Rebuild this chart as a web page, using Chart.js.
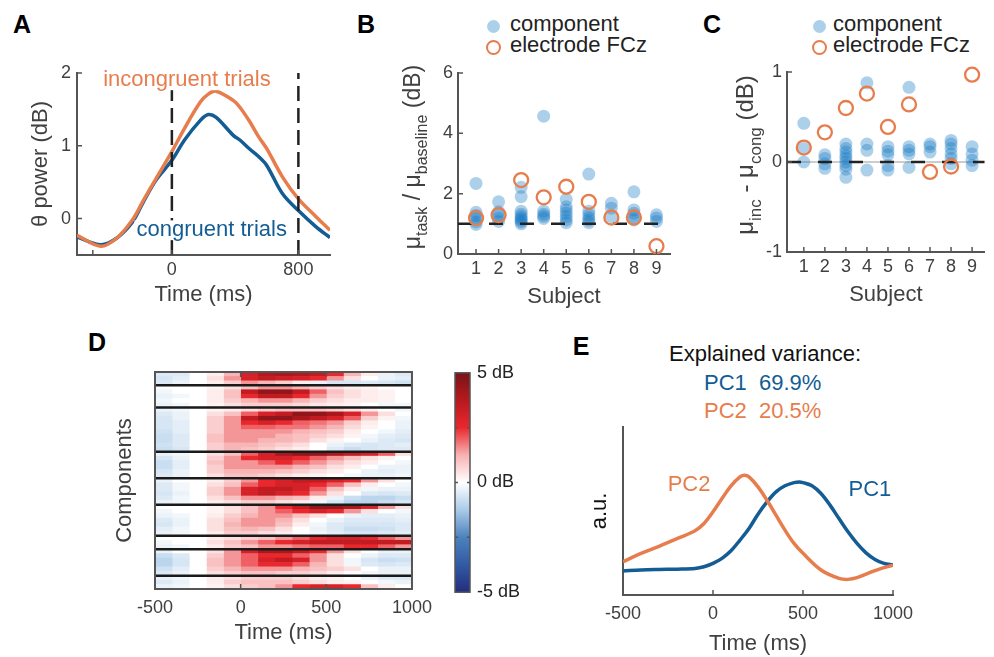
<!DOCTYPE html>
<html>
<head>
<meta charset="utf-8">
<script src="https://cdn.jsdelivr.net/npm/chart.js@4.4.0/dist/chart.umd.min.js"></script>
<style>
  body { margin: 0; background: #fff; }
  #page { position: relative; width: 994px; height: 657px; overflow: hidden;
          font-family: "Liberation Sans", Arial, Helvetica, sans-serif; }
  .box { position: absolute; }
  .letter { position: absolute; width: 30px; text-align: center; font-weight: bold;
            font-size: 25px; line-height: 25px; color: #000; }
  .txt { position: absolute; font-size: 22px; line-height: 22px; white-space: pre; }
  .dot { position: absolute; width: 13px; height: 13px; border-radius: 50%; background: rgba(20,120,195,0.35); }
  .ring { position: absolute; width: 15px; height: 15px; border-radius: 50%; box-sizing: border-box;
          border: 2.3px solid #E77D4C; }
</style>
</head>
<body>
<div id="page">
  <div class="letter" style="left:7px;top:12px">A</div>
  <div class="letter" style="left:351px;top:12px">B</div>
  <div class="letter" style="left:697px;top:12px">C</div>
  <div class="letter" style="left:82px;top:330px">D</div>
  <div class="letter" style="left:566px;top:334px">E</div>

  <div class="dot" style="left:487px;top:20px"></div>
  <div class="txt" style="left:510px;top:13px;color:#222">component</div>
  <div class="ring" style="left:486px;top:40px"></div>
  <div class="txt" style="left:510px;top:34px;color:#222">electrode FCz</div>

  <div class="dot" style="left:813px;top:20px"></div>
  <div class="txt" style="left:833px;top:13px;color:#222">component</div>
  <div class="ring" style="left:812px;top:40px"></div>
  <div class="txt" style="left:833px;top:34px;color:#222">electrode FCz</div>

  <div class="txt" style="left:665px;top:343px;width:200px;text-align:center;color:#111">Explained variance:</div>
  <div class="txt" style="left:704px;top:372px;color:#135C94">PC1  69.9%</div>
  <div class="txt" style="left:704px;top:400px;color:#E77D4C">PC2  20.5%</div>

  <div class="box" style="left:0;top:40px;width:345px;height:270px"><canvas id="chartA"></canvas></div>
  <div class="box" style="left:350px;top:40px;width:330px;height:270px"><canvas id="chartB"></canvas></div>
  <div class="box" style="left:680px;top:40px;width:314px;height:270px"><canvas id="chartC"></canvas></div>
  <div class="box" style="left:90px;top:355px;width:350px;height:300px"><canvas id="chartD"></canvas></div>
  <div class="box" style="left:440px;top:355px;width:100px;height:255px"><canvas id="chartCb"></canvas></div>
  <div class="box" style="left:545px;top:410px;width:449px;height:252px"><canvas id="chartE"></canvas></div>
</div>

<script>
// ---- data ----
const timeA = [-600, -450, -350, -250, -180, -100, 0, 80, 180, 230, 280, 390, 430, 490, 550, 600, 700, 800, 910, 1000];
const incongruent = [-0.23, -0.38, -0.27, -0.02, 0.25, 0.55, 0.92, 1.24, 1.60, 1.71, 1.75, 1.62, 1.53, 1.34, 1.12, 0.96, 0.57, 0.27, 0.03, -0.16];
const congruent = [-0.25, -0.36, -0.27, -0.05, 0.23, 0.53, 0.80, 1.08, 1.35, 1.43, 1.39, 1.14, 1.08, 0.96, 0.85, 0.73, 0.34, 0.11, -0.11, -0.26];
const ticksAx = [-500, 0, 800];
const ticksAy = [0, 1, 2];

const subjects = [1, 2, 3, 4, 5, 6, 7, 8, 9];
const compB = [
  [2.34, 1.38, 1.28, 1.18, 1.06, 0.98],
  [1.73, 1.40, 1.28, 1.18, 1.08],
  [2.21, 1.90, 1.42, 1.32, 1.24, 1.18, 1.12, 1.06, 1.00],
  [4.57, 1.42, 1.32, 1.25, 1.18],
  [1.81, 1.57, 1.46, 1.35, 1.24, 1.13, 1.04],
  [2.65, 1.42, 1.30, 1.20, 1.12, 1.04],
  [1.68, 1.52, 1.24],
  [2.06, 1.46, 1.35, 1.24, 1.13],
  [1.30, 1.19, 1.08]
];
const fczB = [1.19, 1.29, 2.45, 1.88, 2.23, 1.73, 1.21, 1.21, 0.26];
const ticksBy = [0, 2, 4, 6];

const compC = [
  [0.43, 0.15, 0.0],
  [0.08, 0.04, -0.02, -0.07],
  [0.20, 0.15, 0.11, 0.07, 0.04, 0.0, -0.04, -0.08, -0.17],
  [0.88, 0.20, 0.13, -0.09],
  [0.17, 0.12, 0.08, -0.04, -0.09],
  [0.83, 0.17, 0.13, 0.09, -0.06],
  [0.20, 0.17, 0.11],
  [0.24, 0.20, 0.15, 0.09, 0.04, -0.02],
  [0.17, 0.09, 0.02, -0.04]
];
const fczC = [0.16, 0.33, 0.60, 0.76, 0.39, 0.64, -0.11, -0.05, 0.97];
const ticksCy = [-1, 0, 1];

// heatmap: 100 ms bins from -500 to 1000, one row per component
const heatTimes = [-500, -400, -300, -200, -100, 0, 100, 200, 300, 400, 500, 600, 700, 800, 900, 1000];
const groupSizes = [3, 5, 10, 6, 6, 7, 3, 6, 3];
const heatRows = [
  [-0.5,-0.5,0,0.3,1.2,3,3.8,4,3.8,3.5,2.5,1.2,0.3,-0.3,-0.5],
  [-0.6,-0.4,0,0.5,1.5,3,3.5,3.2,3,2.5,1.5,0.5,0,-0.3,-0.4],
  [-0.5,-0.3,0,0.3,0.8,1.5,1.2,0.8,0.3,-0.3,-0.6,-0.6,-0.5,-0.6,-0.7],

  [0,0,0,0.2,0.5,1,1.5,1.5,1.2,0.8,0.5,0.3,0.2,0,0],
  [-0.2,0,0,0.3,1,3.5,4.5,4.5,3.5,2,1,0.5,0.3,0.2,0],
  [-0.3,-0.2,0,0.3,1,2.5,3.5,3.5,2.5,1.5,0.8,0.5,0.3,0.2,0],
  [-0.2,0,0,0.3,0.8,1.2,1.5,1.5,1.2,0.8,0.5,0.3,0.3,0.2,0],
  [-0.3,-0.2,0,0.2,0.5,0.8,0.8,0.8,0.6,0.4,0.3,0.2,0,-0.2,-0.2],

  [-0.3,-0.2,0,0.2,0.3,0.5,0.8,1,1,1,0.8,0.5,0.3,0,-0.2],
  [-0.5,-0.3,0,0.5,1,2,3,3.5,4.5,4.5,4,3,1.5,0.5,0],
  [-0.6,-0.3,0,0.8,1.5,3.5,4.5,4.5,4,3.5,3,2,0.8,0.2,-0.2],
  [-0.6,-0.4,0,0.8,1.5,2.5,3,2.5,2,1.8,1.5,0.8,0.3,0,-0.3],
  [-0.6,-0.4,0,0.8,1.5,2,2,1.8,1.8,1.5,1.2,0.6,0.2,0,-0.3],
  [-0.7,-0.4,0,0.8,1.5,1.5,1.5,1.5,1.2,1,0.8,0.3,0,-0.2,-0.4],
  [-0.8,-0.5,0,1,1.5,1.5,1.5,1.2,1,0.8,0.5,0.2,-0.2,-0.4,-0.5],
  [-0.8,-0.5,0,1,1.5,1.5,1.2,1.2,1,0.5,0.2,0,-0.3,-0.5,-0.6],
  [-0.7,-0.5,0,0.8,1.2,1.2,1,0.8,0.5,0,-0.3,-0.5,-0.6,-0.5,-0.4],
  [-0.8,-0.6,0,0.8,1.2,1,0.8,0.5,0.3,0,-0.5,-0.8,-0.6,-0.5,-0.5],

  [-0.3,-0.2,0,0.5,1,2,3,4,4.5,4.5,4,3.5,3,2,0.5],
  [-0.6,-0.3,0,0.8,1.5,2.5,3,3,2.5,2,1.5,1,0.5,0.2,0],
  [-0.8,-0.4,0,1,1.5,1.5,2,2.5,2,1.5,1,0.5,0.3,0,-0.2],
  [-0.8,-0.4,0,0.8,1.5,1.5,1.5,1.5,1.2,1,0.5,0.3,0,-0.3,-0.3],
  [-0.6,-0.3,0,0.8,1.2,1.2,1.2,1,0.8,0.5,0.3,0,-0.3,-0.4,-0.3],
  [-0.5,-0.3,0,0.5,1,1,0.8,0.5,0.3,0.2,0,-0.2,-0.3,-0.3,-0.2],

  [-0.3,0,0,0.3,0.8,1.5,2.5,3,3.5,3.5,3,2.5,1.5,0.5,0],
  [-0.5,-0.2,0,0.5,1,2,2.5,3,3,2.5,2,1,0.3,0,-0.2],
  [-0.5,-0.2,0,0.8,1.5,3,3.5,3.5,3,2,1,0.3,-0.2,-0.3,-0.3],
  [-0.6,-0.3,0,0.8,1.5,3,3.5,3,2.5,1.5,0.5,0,-0.5,-0.6,-0.5],
  [-0.5,-0.2,0,0.5,1,1.5,1.5,1.2,1,0.3,-0.3,-0.8,-1,-1,-0.8],
  [-0.3,-0.2,0,0.3,0.5,0.8,0.8,0.5,0.3,-0.2,-0.6,-1,-1,-0.8,-0.6],

  [0,0,0,0.2,0.5,1,1.5,2.5,3.5,4.5,4.5,4,3,1.5,0.5],
  [-0.2,0,0,0.2,0.5,1,1.5,2,2.5,3,2.5,1.5,0.5,0,-0.2],
  [-0.3,-0.2,0,0.3,0.8,1.2,1.5,1.5,1,0.5,0,-0.3,-0.4,-0.4,-0.3],
  [-0.5,-0.3,0,0.5,1,1.5,1.5,1.2,0.5,0,-0.3,-0.5,-0.5,-0.5,-0.4],
  [-0.6,-0.3,0,0.5,1.2,1.5,1.5,1,0.3,-0.2,-0.5,-0.6,-0.6,-0.6,-0.5],
  [-0.4,-0.2,0,0.5,1,1.2,1,0.5,0,-0.3,-0.5,-0.8,-0.8,-0.7,-0.5],
  [-0.3,-0.2,0,0.3,0.8,0.8,0.5,0.3,0,-0.2,-0.4,-0.6,-0.6,-0.5,-0.4],

  [0,0,0,0.3,0.5,0.8,1,1.5,2,2.5,3,3,2.5,2,1.5],
  [-0.2,0,0,0.5,1,1.5,2,2.5,3,3.5,3.5,3.5,3.5,3.5,3.5],
  [-0.3,-0.2,0,0.3,0.8,1,1.5,1.5,1.8,2,2,2.5,2.5,2,1.5],

  [-0.3,0,0,0.5,1.5,3,4,4,3.5,2.5,1.5,0.5,0,-0.3,-0.3],
  [-0.8,-0.5,0,0.8,1.5,2,2.5,2.5,2,1.5,0.5,0,-0.3,-0.5,-0.5],
  [-1,-0.6,0,1,1.5,2,3,3.5,3,1.5,0.5,-0.2,-0.6,-0.8,-0.7],
  [-1,-0.6,0,1,1.5,2,2.5,2.5,2,1.2,0.5,-0.2,-0.5,-0.6,-0.5],
  [-0.7,-0.4,0,0.8,1.2,1.5,1.5,1.5,1.2,1,0.8,0.5,0,-0.3,-0.3],
  [-0.5,-0.3,0,0.5,0.8,1,1,0.8,0.8,0.6,0.3,0,-0.2,-0.3,-0.3],

  [-0.3,-0.2,0,0.3,0.5,0.8,0.8,0.8,0.5,0.3,0.2,0,-0.3,-0.5,-0.5],
  [-0.5,-0.3,0,0.3,0.8,1,1,1,0.8,0.5,0.3,0.2,0,-0.2,-0.3],
  [-0.3,-0.2,0,0.2,0.5,0.8,1,1.5,2.5,3,3,2.5,1,0.3,0]
];
const ticksD = [-500, 0, 500, 1000];
const cbTicks = [-5, 0, 5];

const timePC1 = [-500, -400, -300, -200, -100, -50, 0, 50, 100, 150, 200, 250, 300, 350, 400, 450, 480, 500, 550, 600, 650, 700, 750, 800, 850, 900, 950, 1000];
const pc1 = [0.143, 0.149, 0.152, 0.154, 0.158, 0.168, 0.188, 0.218, 0.263, 0.327, 0.396, 0.481, 0.554, 0.614, 0.650, 0.669, 0.673, 0.669, 0.650, 0.604, 0.535, 0.455, 0.376, 0.307, 0.251, 0.212, 0.188, 0.178];
const timePC2 = [-500, -400, -300, -200, -100, -50, 0, 50, 100, 150, 175, 200, 250, 300, 350, 400, 450, 500, 600, 700, 750, 800, 900, 1000];
const pc2 = [0.198, 0.248, 0.290, 0.335, 0.382, 0.426, 0.495, 0.574, 0.650, 0.703, 0.713, 0.703, 0.644, 0.564, 0.475, 0.386, 0.307, 0.248, 0.149, 0.099, 0.093, 0.103, 0.145, 0.178];
const ticksE = [-500, 0, 500, 1000];

// ---- styling ----
const FONT = '"Liberation Sans", Arial, Helvetica, sans-serif';
const BLUE = '#135C94';
const ORANGE = '#E77D4C';
const DOT = 'rgba(20,120,195,0.35)';
const AX = '#555';
const TXT = '#404040';

Chart.defaults.font.family = FONT;
Chart.defaults.color = TXT;
Chart.defaults.animation = false;
Chart.defaults.responsive = true;
Chart.defaults.maintainAspectRatio = false;
Chart.defaults.events = [];
Chart.defaults.plugins.legend.display = false;
Chart.defaults.plugins.tooltip.enabled = false;

// red-white-blue colormap, -5..5 dB
const cmapStops = [
  [-5, [35, 45, 125]], [-3.75, [50, 90, 165]], [-2.5, [75, 130, 190]], [-1.25, [170, 203, 232]],
  [0, [255, 255, 255]], [1.25, [247, 178, 178]], [2.5, [233, 40, 46]], [3.75, [182, 25, 30]], [5, [120, 20, 25]]
];
function cmap(v) {
  v = Math.max(-5, Math.min(5, v));
  for (let i = 1; i < cmapStops.length; i++) {
    const [v0, c0] = cmapStops[i - 1], [v1, c1] = cmapStops[i];
    if (v <= v1) {
      const f = (v - v0) / (v1 - v0);
      const c = c0.map((a, k) => Math.round(a + (c1[k] - a) * f));
      return `rgb(${c[0]},${c[1]},${c[2]})`;
    }
  }
  return 'rgb(120,20,25)';
}

const setTicks = vals => s => { s.ticks = vals.map(v => ({ value: v })); };
const plain = v => String(v);

function xAxis(min, max, vals, height, extra) {
  return Object.assign({
    type: 'linear', min, max,
    afterBuildTicks: setTicks(vals),
    afterFit: s => { s.height = height; },
    grid: { display: false, drawTicks: false },
    border: { color: AX, width: 2 },
    ticks: { font: { size: 18 }, padding: 4, maxRotation: 0, autoSkip: false, callback: plain }
  }, extra);
}
function yAxis(min, max, vals, width, extra) {
  return Object.assign({
    type: 'linear', min, max,
    afterBuildTicks: setTicks(vals),
    afterFit: s => { s.width = width; },
    grid: { display: false, drawTicks: false },
    border: { color: AX, width: 2 },
    ticks: { font: { size: 18 }, padding: 6, autoSkip: false, callback: plain }
  }, extra);
}

// ---- plugins ----
const inwardTicks = {
  id: 'inwardTicks',
  afterDatasetsDraw(chart, args, o) {
    const { ctx, chartArea: a, scales } = chart;
    const len = o.len || 5;
    ctx.save();
    ctx.strokeStyle = o.color || AX;
    ctx.lineWidth = o.width || 1.5;
    ctx.beginPath();
    (o.x || []).forEach(v => {
      const p = scales.x.getPixelForValue(v);
      ctx.moveTo(p, a.bottom); ctx.lineTo(p, a.bottom - len);
      if (o.mirror) { ctx.moveTo(p, a.top); ctx.lineTo(p, a.top + len); }
    });
    (o.y || []).forEach(v => {
      const p = scales.y.getPixelForValue(v);
      ctx.moveTo(a.left, p); ctx.lineTo(a.left + len, p);
      if (o.mirror) { ctx.moveTo(a.right, p); ctx.lineTo(a.right - len, p); }
    });
    ctx.stroke();
    ctx.restore();
  }
};

const notes = {
  id: 'notes',
  afterDatasetsDraw(chart, args, o) {
    const { ctx, scales: { x, y } } = chart;
    ctx.save();
    ctx.font = `${o.size}px ${FONT}`;
    ctx.textAlign = 'center';
    ctx.textBaseline = 'middle';
    o.items.forEach(n => {
      const px = x.getPixelForValue(n.x), py = y.getPixelForValue(n.y);
      if (n.bg) {
        const w = ctx.measureText(n.text).width;
        ctx.fillStyle = n.bg;
        ctx.fillRect(px - w / 2 - 2, py - o.size * 0.45, w + 4, o.size * 0.9);
      }
      ctx.fillStyle = n.color;
      ctx.fillText(n.text, px, py);
    });
    ctx.restore();
  }
};

// rotated axis title with subscripts
const richTitle = {
  id: 'richTitle',
  afterDraw(chart, args, o) {
    const ctx = chart.ctx;
    const big = `${o.size}px ${FONT}`, small = `${o.sub}px ${FONT}`;
    ctx.save();
    ctx.translate(o.x, o.y);
    ctx.rotate(-Math.PI / 2);
    ctx.fillStyle = o.color;
    ctx.textBaseline = 'alphabetic';
    let w = 0;
    o.parts.forEach(([t, s]) => { ctx.font = s ? small : big; w += ctx.measureText(t).width; });
    let cx = -w / 2;
    const base = o.size * 0.35;
    o.parts.forEach(([t, s]) => {
      ctx.font = s ? small : big;
      ctx.fillText(t, cx, base + (s ? o.size * 0.3 : 0));
      cx += ctx.measureText(t).width;
    });
    ctx.restore();
  }
};

const frame = {
  id: 'frame',
  afterDatasetsDraw(chart, args, o) {
    const { ctx, chartArea: a } = chart;
    ctx.save();
    ctx.strokeStyle = o.color || AX;
    ctx.lineWidth = o.width || 2;
    ctx.strokeRect(a.left, a.top, a.right - a.left, a.bottom - a.top);
    ctx.restore();
  }
};

const separators = {
  id: 'separators',
  afterDatasetsDraw(chart, args, o) {
    const { ctx, chartArea: a, scales: { y } } = chart;
    ctx.save();
    ctx.strokeStyle = '#1a1a1a';
    ctx.lineWidth = 2.5;
    ctx.beginPath();
    o.after.forEach(b => {
      const p = (y.getPixelForValue(b - 1) + y.getPixelForValue(b)) / 2;
      ctx.moveTo(a.left, p); ctx.lineTo(a.right, p);
    });
    ctx.stroke();
    ctx.restore();
  }
};

const xy = (xs, ys) => xs.map((x, i) => ({ x, y: ys[i] }));
const vline = (x, y0, y1) => [{ x, y: y0 }, { x, y: y1 }];
const hline = (y, x0, x1) => [{ x: x0, y }, { x: x1, y }];

// ---- A: theta power ----
new Chart(document.getElementById('chartA'), {
  type: 'scatter',
  data: {
    datasets: [
      { data: vline(0, -0.5, 2), showLine: true, borderColor: '#222', borderWidth: 2.5, borderDash: [15, 7], pointRadius: 0 },
      { data: vline(800, -0.5, 2), showLine: true, borderColor: '#222', borderWidth: 2.5, borderDash: [15, 7], pointRadius: 0 },
      { data: xy(timeA, incongruent), showLine: true, borderColor: ORANGE, borderWidth: 3.5, pointRadius: 0, tension: 0.35 },
      { data: xy(timeA, congruent), showLine: true, borderColor: BLUE, borderWidth: 3.5, pointRadius: 0, tension: 0.35 }
    ]
  },
  options: {
    layout: { padding: { top: 33, right: 15 } },
    scales: {
      x: xAxis(-600, 1000, ticksAx, 55, {
        ticks: { font: { size: 18 }, padding: 4, maxRotation: 0, autoSkip: false, callback: v => (v === -500 ? '' : String(v)) },
        title: { display: true, text: 'Time (ms)', font: { size: 22 }, padding: { top: 0, bottom: 2 } }
      }),
      y: yAxis(-0.5, 2, ticksAy, 77, {
        title: { display: true, text: 'θ power (dB)', font: { size: 22 }, padding: { top: 28, bottom: 0 } }
      })
    },
    plugins: {
      inwardTicks: { x: ticksAx, y: ticksAy },
      notes: { size: 22, items: [
        { text: 'incongruent trials', x: 95, y: 1.9, color: ORANGE, bg: '#fff' },
        { text: 'congruent trials', x: 252, y: -0.16, color: BLUE, bg: '#fff' }
      ] }
    }
  },
  plugins: [inwardTicks, notes]
});

// ---- B and C: subject scatter ----
function subjectChart(id, comp, fcz, yMin, yMax, yTicks, refY, area, title, extraSets) {
  return new Chart(document.getElementById(id), {
    type: 'scatter',
    data: {
      datasets: [
        { data: subjects.map((s, i) => ({ x: s, y: fcz[i] })), pointRadius: 7, pointBorderWidth: 2.3,
          pointBorderColor: ORANGE, pointBackgroundColor: 'rgba(0,0,0,0)', clip: false, order: 0 },
        { data: hline(refY, 0.2, 9.6), showLine: true, borderColor: '#222', borderWidth: 2.5,
          borderDash: [14, 17], pointRadius: 0, order: 1 },
        { data: comp.flatMap((vals, i) => vals.map(v => ({ x: subjects[i], y: v }))), pointRadius: 6.5,
          pointBorderWidth: 0, pointBackgroundColor: DOT, clip: false, order: 2 }
      ].concat(extraSets)
    },
    options: {
      layout: { padding: area.padding },
      scales: {
        x: xAxis(0.2, 9.6, subjects, area.xh, {
          title: { display: true, text: 'Subject', font: { size: 22 }, padding: { top: 0, bottom: area.tb } }
        }),
        y: yAxis(yMin, yMax, yTicks, area.yw, { ticks: { font: { size: 18 }, padding: 5, autoSkip: false, callback: plain } })
      },
      plugins: {
        inwardTicks: { x: subjects, y: yTicks },
        richTitle: title
      }
    },
    plugins: [inwardTicks, richTitle]
  });
}

subjectChart('chartB', compB, fczB, 0, 6, ticksBy, 1,
  { padding: { top: 33, right: 10 }, xh: 56, yw: 108, tb: 0 },
  { x: 62, y: 117, size: 23, sub: 16, color: TXT,
    parts: [['μ', 0], ['task', 1], [' / ', 0], ['μ', 0], ['baseline', 1], [' (dB)', 0]] },
  []);

subjectChart('chartC', compC, fczC, -1, 1, ticksCy, 0,
  { padding: { top: 32, right: 1 }, xh: 58, yw: 107, tb: 2 },
  { x: 65, y: 115, size: 24, sub: 17, color: TXT,
    parts: [['μ', 0], ['inc', 1], [' - ', 0], ['μ', 0], ['cong', 1], [' (dB)', 0]] },
  [{ data: hline(0, 0.2, 9.6), showLine: true, borderColor: '#999', borderWidth: 1, pointRadius: 0, order: 3 }]);

// ---- D: component heatmap ----
const bounds = [];
groupSizes.reduce((acc, n) => { acc += n; bounds.push(acc); return acc; }, 0);
bounds.pop();

new Chart(document.getElementById('chartD'), {
  type: 'bar',
  data: {
    labels: heatRows.map((r, i) => String(i + 1)),
    datasets: heatTimes.slice(0, -1).map((t0, j) => ({
      data: heatRows.map(() => [t0, heatTimes[j + 1]]),
      backgroundColor: heatRows.map(r => cmap(r[j])),
      grouped: false, barPercentage: 1, categoryPercentage: 1, borderWidth: 0
    }))
  },
  options: {
    indexAxis: 'y',
    layout: { padding: { top: 17, right: 23 } },
    scales: {
      x: xAxis(-500, 1000, ticksD, 66, {
        border: { display: false },
        ticks: { font: { size: 18 }, padding: 8, maxRotation: 0, autoSkip: false, callback: plain },
        title: { display: true, text: 'Time (ms)', font: { size: 22 }, padding: { top: 0, bottom: 9 } }
      }),
      y: {
        type: 'category',
        afterFit: s => { s.width = 65; },
        grid: { display: false, drawTicks: false },
        border: { display: false },
        ticks: { display: false },
        title: { display: true, text: 'Components', font: { size: 22 }, padding: { top: 22, bottom: 0 } }
      }
    },
    plugins: {
      separators: { after: bounds },
      frame: { color: AX, width: 2 },
      inwardTicks: { x: [0, 500], mirror: true }
    }
  },
  plugins: [separators, frame, inwardTicks]
});

// ---- colorbar ----
new Chart(document.getElementById('chartCb'), {
  type: 'bar',
  data: {
    labels: [''],
    datasets: [{
      data: [[-5, 5]],
      barPercentage: 1, categoryPercentage: 1, borderWidth: 0,
      backgroundColor: c => {
        const a = c.chart.chartArea;
        if (!a) return null;
        const g = c.chart.ctx.createLinearGradient(0, a.bottom, 0, a.top);
        cmapStops.forEach(([v, col]) => g.addColorStop((v + 5) / 10, `rgb(${col.join(',')})`));
        return g;
      }
    }]
  },
  options: {
    layout: { padding: { left: 15, top: 15, bottom: 17 } },
    scales: {
      x: { display: false },
      y: {
        position: 'right', min: -5, max: 5,
        afterBuildTicks: setTicks(cbTicks),
        afterFit: s => { s.width = 70; },
        grid: { display: false, drawTicks: false },
        border: { display: false },
        ticks: { font: { size: 18 }, padding: 7, color: '#222', callback: v => v + ' dB' }
      }
    },
    plugins: {
      frame: { color: AX, width: 1.5 },
      inwardTicks: { y: [-2.5, 0, 2.5], mirror: true, len: 3 }
    }
  },
  plugins: [frame, inwardTicks]
});

// ---- E: principal components ----
new Chart(document.getElementById('chartE'), {
  type: 'scatter',
  data: {
    datasets: [
      { data: xy(timePC2, pc2), showLine: true, borderColor: ORANGE, borderWidth: 3.5, pointRadius: 0, tension: 0.35 },
      { data: xy(timePC1, pc1), showLine: true, borderColor: BLUE, borderWidth: 3.5, pointRadius: 0, tension: 0.35 }
    ]
  },
  options: {
    layout: { padding: { top: 17, right: 101 } },
    scales: {
      x: xAxis(-500, 1000, ticksE, 67, {
        ticks: { font: { size: 18 }, padding: 8, maxRotation: 0, autoSkip: false, callback: plain },
        title: { display: true, text: 'Time (ms)', font: { size: 22 }, padding: { top: 0, bottom: 5 } }
      }),
      y: yAxis(0, 1, [], 78, {
        title: { display: true, text: 'a.u.', font: { size: 22 }, color: '#111', padding: { top: 42, bottom: 0 } }
      })
    },
    plugins: {
      inwardTicks: { x: ticksE },
      notes: { size: 22, items: [
        { text: 'PC2', x: -133, y: 0.655, color: ORANGE },
        { text: 'PC1', x: 872, y: 0.625, color: BLUE }
      ] }
    }
  },
  plugins: [inwardTicks, notes]
});
</script>
</body>
</html>
